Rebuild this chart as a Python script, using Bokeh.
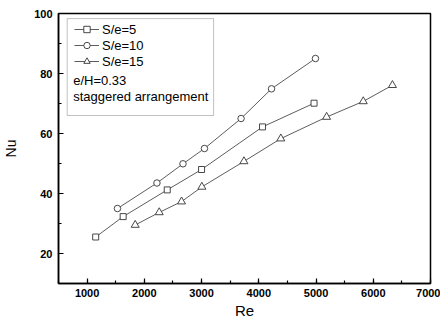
from bokeh.plotting import figure
from bokeh.models import Legend, LegendItem, Label, BoxAnnotation, FixedTicker, Range1d
from bokeh.embed import file_html
from bokeh.resources import INLINE

re_5 = [1150, 1630, 2400, 3000, 4065, 4965]
nu_5 = [25.5, 32.3, 41.2, 48.0, 62.2, 70.1]
re_10 = [1530, 2220, 2675, 3050, 3690, 4222, 4990]
nu_10 = [35.0, 43.5, 49.9, 55.0, 65.0, 74.9, 85.0]
re_15 = [1840, 2260, 2650, 3005, 3740, 4385, 5185, 5825, 6335]
nu_15 = [29.5, 33.7, 37.3, 42.2, 50.7, 58.3, 65.5, 70.7, 76.1]
x_ticks = [1000, 2000, 3000, 4000, 5000, 6000, 7000]
y_ticks = [20, 40, 60, 80, 100]
labels = ["S/e=5", "S/e=10", "S/e=15"]
notes = ["e/H=0.33", "staggered arrangement"]

FONT = "Liberation Sans"
LC = "#333333"

p = figure(width=440, height=324, output_backend="svg", toolbar_location=None,
           x_range=Range1d(500, 7000), y_range=Range1d(10, 100),
           min_border_left=58, min_border_right=10, min_border_top=13, min_border_bottom=41)
p.xgrid.visible = False
p.ygrid.visible = False
p.outline_line_color = "black"
p.outline_line_width = 1.5
p.background_fill_color = "white"
p.border_fill_color = "white"

for ax, ticks, minor in ((p.xaxis[0], x_ticks, [500 + 500 * i for i in range(14)]),
                         (p.yaxis[0], y_ticks, [10 + 10 * i for i in range(10)])):
    ax.ticker = FixedTicker(ticks=ticks, minor_ticks=minor)
    ax.major_tick_in = 5
    ax.major_tick_out = 0
    ax.minor_tick_in = 3
    ax.minor_tick_out = 0
    ax.axis_line_width = 1.5
    ax.axis_line_color = "black"
    ax.major_tick_line_color = "black"
    ax.minor_tick_line_color = "black"
    ax.major_tick_line_width = 1.2
    ax.minor_tick_line_width = 1.2
    ax.major_label_text_font = FONT
    ax.major_label_text_font_style = "bold"
    ax.major_label_text_font_size = "11px"
    ax.major_label_text_color = "black"
    ax.axis_label_text_font = FONT
    ax.axis_label_text_font_style = "normal"
    ax.axis_label_text_color = "black"

p.xaxis.axis_label = "Re"
p.xaxis.axis_label_text_font_size = "15px"
p.xaxis.major_label_standoff = 5
p.xaxis.axis_label_standoff = 2
p.yaxis.axis_label = "Nu"
p.yaxis.axis_label_text_font_size = "14px"
p.yaxis.major_label_standoff = 6
p.yaxis.axis_label_standoff = 12

r1 = p.line(re_5, nu_5, line_color=LC, line_width=0.8)
m1 = p.scatter(re_5, nu_5, marker="square", size=6, fill_color="white", line_color=LC, line_width=0.9)
r2 = p.line(re_10, nu_10, line_color=LC, line_width=0.8)
m2 = p.scatter(re_10, nu_10, marker="circle", size=6.5, fill_color="white", line_color=LC, line_width=0.9)
r3 = p.line(re_15, nu_15, line_color=LC, line_width=0.8)
m3 = p.scatter(re_15, nu_15, marker="triangle", size=8, fill_color="white", line_color=LC, line_width=0.9)

legend = Legend(items=[LegendItem(label=labels[0], renderers=[r1, m1]),
                       LegendItem(label=labels[1], renderers=[r2, m2]),
                       LegendItem(label=labels[2], renderers=[r3, m3])],
                location=(16, 214), orientation="vertical",
                border_line_alpha=0, background_fill_alpha=0,
                label_text_font=FONT, label_text_font_size="13px", label_text_color="black",
                glyph_width=25, glyph_height=16, label_height=16, spacing=0,
                padding=0, margin=0, label_standoff=3)
p.add_layout(legend, "center")

box = BoxAnnotation(left=652, right=3210, top=98.3, bottom=66,
                    fill_alpha=0, line_color="#333333", line_width=1)
p.add_layout(box)
p.add_layout(Label(x=757, y=77.8, text=notes[0], text_font=FONT, text_font_size="13px",
                   text_baseline="middle", text_color="black"))
p.add_layout(Label(x=757, y=72.5, text=notes[1], text_font=FONT, text_font_size="13px",
                   text_baseline="middle", text_color="black"))

open("out.html", "w").write(file_html(p, INLINE))
